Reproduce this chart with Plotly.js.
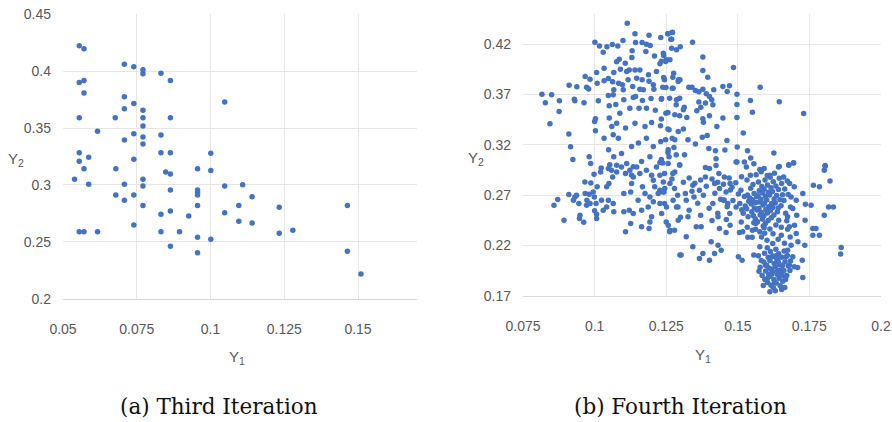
<!DOCTYPE html>
<html><head><meta charset="utf-8">
<script src="https://cdn.plot.ly/plotly-3.0.1.min.js"></script>
<style>html,body{margin:0;padding:0;background:#fff;}#chart{width:892px;height:422px;}</style>
</head><body><div id="chart"></div>
<script>
// (a) Third Iteration
const thirdY1 = [0.0555,0.0571,0.0708,0.0740,0.0771,0.0771,0.0832,0.0864,0.0555,0.0571,0.0571,0.0708,0.0740,0.0708,0.0771,0.0555,0.0677,0.0771,0.0864,0.0771,0.0617,0.0740,0.0771,0.0832,0.0708,0.0771,0.0555,0.0587,0.0740,0.0832,0.0864,0.0555,0.0571,0.0539,0.0587,0.0555,0.0571,0.0617,0.0679,0.0708,0.0679,0.0708,0.0740,0.0771,0.0771,0.0771,0.0740,0.0848,0.0864,0.0864,0.0832,0.0864,0.0926,0.0832,0.0895,0.0864,0.0956,0.0956,0.0956,0.0956,0.0956,0.0956,0.0956,0.1001,0.1001,0.1048,0.1109,0.1141,0.1096,0.1233,0.1464,0.1048,0.1096,0.1141,0.1233,0.1279,0.1001,0.1464,0.1510,0.1048];
const thirdY2 = [0.4222,0.4196,0.4059,0.4038,0.4011,0.3976,0.3980,0.3918,0.3900,0.3918,0.3807,0.3775,0.3716,0.3670,0.3655,0.3590,0.3590,0.3590,0.3590,0.3518,0.3471,0.3450,0.3421,0.3439,0.3395,0.3360,0.3283,0.3243,0.3225,0.3283,0.3283,0.3208,0.3143,0.3050,0.3006,0.2590,0.2590,0.2590,0.3143,0.3006,0.2912,0.2866,0.2912,0.3050,0.2991,0.2819,0.2649,0.3114,0.3096,0.2956,0.2743,0.2772,0.2728,0.2590,0.2590,0.2462,0.3143,0.2956,0.2935,0.2912,0.2819,0.2541,0.2404,0.3278,0.3126,0.2991,0.3003,0.2897,0.2819,0.2804,0.2819,0.2757,0.2681,0.2667,0.2576,0.2602,0.2524,0.2418,0.2219,0.3728];

// (b) Fourth Iteration — [Y1, Y2] pairs by region of the cloud
const fourthUpperLeft = [[0.1114,0.4408],[0.1141,0.4303],[0.119,0.4289],[0.1231,0.4266],[0.1257,0.4303],[0.1272,0.4316],[0.1269,0.425],[0.1001,0.422],[0.1017,0.4183],[0.1043,0.4174],[0.1062,0.4197],[0.1081,0.4183],[0.1099,0.4236],[0.103,0.4121],[0.1131,0.4134],[0.1143,0.4217],[0.1166,0.4217],[0.1181,0.42],[0.1194,0.4187],[0.1179,0.4127],[0.1209,0.4084],[0.113,0.4068],[0.1086,0.4051],[0.1077,0.4025],[0.1107,0.4012],[0.109,0.3952],[0.1067,0.3919],[0.1121,0.3945],[0.1033,0.3962],[0.1048,0.3859],[0.1007,0.3919],[0.1009,0.3813],[0.0984,0.3853],[0.0967,0.3879],[0.0972,0.3773],[0.0979,0.3754],[0.0911,0.3793],[0.0938,0.3777],[0.0816,0.3704],[0.085,0.3697],[0.0828,0.3618],[0.0877,0.3638],[0.0929,0.3654],[0.0931,0.3638],[0.0963,0.3618],[0.0876,0.3532],[0.0844,0.341],[0.1013,0.3638],[0.1033,0.3836],[0.1063,0.3826],[0.1067,0.3747],[0.1048,0.3691],[0.1065,0.3697],[0.1097,0.3797],[0.11,0.3747],[0.1133,0.378],[0.1143,0.3681],[0.1158,0.3753],[0.117,0.3747],[0.1166,0.3846],[0.119,0.3833],[0.1205,0.3797],[0.1207,0.3753],[0.1188,0.3896],[0.1216,0.3929],[0.1228,0.4005],[0.1248,0.4028],[0.1241,0.3869],[0.1249,0.377],[0.1274,0.3763],[0.1292,0.383],[0.1286,0.3648],[0.1234,0.3661],[0.1197,0.3661],[0.1167,0.3641],[0.1135,0.3671],[0.1102,0.3648],[0.1074,0.3601],[0.1051,0.3588],[0.1088,0.3515],[0.1123,0.3565],[0.1155,0.3565],[0.1181,0.3565],[0.1212,0.3545],[0.1249,0.3515],[0.128,0.3499],[0.1003,0.3459],[0.1,0.3433],[0.1003,0.334],[0.1051,0.3466],[0.106,0.3383],[0.1077,0.3416],[0.1108,0.3367],[0.1141,0.3416],[0.1176,0.3383],[0.1199,0.3423],[0.123,0.339],[0.126,0.335],[0.1292,0.3334],[0.1033,0.3267],[0.1065,0.3301],[0.1083,0.3267],[0.1129,0.3185],[0.1153,0.3218],[0.1181,0.3267],[0.1205,0.3185],[0.1231,0.3234],[0.1257,0.3152],[0.128,0.3251],[0.091,0.3307],[0.0916,0.3181],[0.0924,0.3056],[0.0981,0.3082],[0.0986,0.3016],[0.1049,0.3152],[0.1067,0.3082],[0.1094,0.3115],[0.1112,0.3016],[0.1135,0.2983],[0.1164,0.3036],[0.1193,0.3082],[0.1228,0.3026],[0.126,0.3082],[0.1053,0.3003],[0.1023,0.297],[0.1112,0.3929],[0.1141,0.3945],[0.1147,0.3863],[0.1117,0.3846],[0.1158,0.3945],[0.1084,0.3813],[0.124,0.4111],[0.1263,0.4045],[0.1286,0.4144],[0.1298,0.3846]];
const fourthUpperRight = [[0.1255,0.4303],[0.1271,0.4319],[0.1266,0.425],[0.1269,0.416],[0.1299,0.4174],[0.1342,0.422],[0.1241,0.4088],[0.1233,0.4031],[0.125,0.4045],[0.1378,0.4074],[0.1378,0.3939],[0.1395,0.3873],[0.1485,0.3969],[0.1276,0.3912],[0.1273,0.3873],[0.1293,0.3846],[0.1244,0.3846],[0.1238,0.3773],[0.1271,0.3763],[0.1329,0.3773],[0.134,0.3773],[0.1352,0.374],[0.1364,0.3727],[0.1378,0.3753],[0.139,0.3707],[0.1401,0.3681],[0.1416,0.3747],[0.1448,0.378],[0.1471,0.3787],[0.1463,0.373],[0.1497,0.3704],[0.1578,0.3773],[0.1233,0.3654],[0.1262,0.3664],[0.1297,0.3664],[0.1285,0.3598],[0.1364,0.3625],[0.1387,0.3615],[0.1409,0.3648],[0.1413,0.3598],[0.1497,0.3601],[0.1544,0.3641],[0.1645,0.3628],[0.1371,0.3575],[0.1357,0.3539],[0.1313,0.3575],[0.131,0.3549],[0.1256,0.3522],[0.1233,0.3456],[0.1297,0.3489],[0.1322,0.3473],[0.1378,0.3459],[0.138,0.3426],[0.1401,0.3489],[0.1448,0.3466],[0.1497,0.3473],[0.1551,0.3525],[0.173,0.3512],[0.1427,0.3383],[0.131,0.3357],[0.1256,0.3357],[0.1271,0.3267],[0.1326,0.3251],[0.1352,0.3208],[0.1376,0.3277],[0.1393,0.3294],[0.1462,0.3244],[0.1519,0.3317],[0.1498,0.3178],[0.1399,0.3165],[0.1422,0.3142],[0.1455,0.3148],[0.1534,0.3142],[0.1626,0.3119],[0.1248,0.3251],[0.1277,0.3175],[0.1256,0.3125],[0.1285,0.3102],[0.1314,0.3102],[0.1494,0.3029],[0.1523,0.3029],[0.1545,0.3069],[0.1424,0.3062],[0.1424,0.2996],[0.1556,0.3013],[0.1645,0.2986],[0.1678,0.3003],[0.1695,0.3023],[0.1805,0.2996],[0.1297,0.3003],[0.1387,0.2976],[0.1233,0.3056],[0.1238,0.302]];
const fourthLowerLeft = [[0.0858,0.2601],[0.0871,0.2657],[0.0893,0.2452],[0.091,0.2707],[0.0931,0.2683],[0.0926,0.265],[0.0945,0.2617],[0.0949,0.2502],[0.0947,0.2469],[0.0962,0.2432],[0.0966,0.2832],[0.0967,0.2717],[0.0981,0.271],[0.0973,0.265],[0.0972,0.2601],[0.0987,0.2822],[0.0995,0.2733],[0.0999,0.2683],[0.1005,0.2617],[0.1,0.2545],[0.1007,0.2512],[0.1007,0.2469],[0.1024,0.265],[0.103,0.2551],[0.1042,0.2584],[0.1048,0.265],[0.1067,0.2535],[0.1021,0.2931],[0.1048,0.2965],[0.0998,0.2908],[0.105,0.2816],[0.1063,0.2882],[0.1077,0.2931],[0.1094,0.2981],[0.1108,0.2915],[0.1123,0.2948],[0.1135,0.2882],[0.1129,0.2816],[0.1102,0.2717],[0.1126,0.2733],[0.1102,0.2535],[0.1121,0.2551],[0.1135,0.2518],[0.1126,0.2419],[0.1108,0.2336],[0.1164,0.2386],[0.1164,0.2551],[0.1181,0.2948],[0.1199,0.2898],[0.1158,0.2915],[0.1216,0.2981],[0.1228,0.2898],[0.1167,0.2783],[0.1176,0.2717],[0.1193,0.2683],[0.121,0.2783],[0.1228,0.275],[0.1242,0.2733],[0.1205,0.2634],[0.1228,0.2617],[0.1187,0.2584],[0.1193,0.2435],[0.1199,0.2485],[0.119,0.2369],[0.1234,0.2518],[0.1257,0.2402],[0.1263,0.2353],[0.1251,0.2584],[0.1274,0.265],[0.1286,0.2584],[0.1263,0.2816],[0.128,0.2931],[0.1257,0.3014],[0.1077,0.2998],[0.1042,0.2783],[0.1009,0.2783],[0.1292,0.2452],[0.1298,0.2105],[0.1152,0.265],[0.1065,0.2617],[0.0937,0.27],[0.0984,0.2617],[0.1059,0.2948],[0.1147,0.2981],[0.1129,0.2898],[0.1205,0.2849],[0.124,0.2832],[0.1245,0.2766],[0.1222,0.2717]];
const fourthLowerRight = [[0.1244,0.2915],[0.1273,0.2915],[0.1297,0.2998],[0.1279,0.2766],[0.1238,0.2733],[0.1244,0.2617],[0.125,0.2435],[0.1262,0.2336],[0.1279,0.2353],[0.1302,0.2105],[0.1291,0.2584],[0.132,0.2287],[0.1326,0.2485],[0.1317,0.2717],[0.1343,0.2799],[0.1366,0.275],[0.1347,0.2683],[0.1343,0.2188],[0.1366,0.2072],[0.1372,0.2386],[0.1355,0.2386],[0.1378,0.2121],[0.1401,0.2055],[0.1407,0.2237],[0.1387,0.2882],[0.1401,0.2965],[0.1419,0.2816],[0.1434,0.2915],[0.1436,0.2766],[0.1413,0.2617],[0.1431,0.2485],[0.1436,0.2369],[0.1431,0.2204],[0.1442,0.2154],[0.1419,0.2121],[0.1459,0.233],[0.1473,0.2402],[0.1465,0.2617],[0.145,0.265],[0.1459,0.2733],[0.1473,0.2816],[0.1453,0.2882],[0.1497,0.3031],[0.153,0.2981],[0.1544,0.2898],[0.1577,0.2955],[0.1592,0.2965],[0.1612,0.2898],[0.1642,0.2981],[0.1678,0.2998],[0.1695,0.3021],[0.166,0.2882],[0.1681,0.2816],[0.1697,0.2783],[0.1727,0.2717],[0.1736,0.2611],[0.1756,0.2601],[0.1706,0.2502],[0.1735,0.2452],[0.1762,0.2369],[0.1773,0.2369],[0.1785,0.2303],[0.1762,0.2303],[0.1802,0.2502],[0.1817,0.2584],[0.1834,0.2584],[0.1764,0.2799],[0.1785,0.2783],[0.1805,0.2988],[0.1802,0.2948],[0.1822,0.2842],[0.1861,0.2181],[0.1859,0.2115],[0.1734,0.2204],[0.171,0.2237],[0.1725,0.2055],[0.1727,0.1883],[0.1697,0.1989],[0.1709,0.1982],[0.168,0.2005],[0.1669,0.2088],[0.1674,0.2154],[0.1692,0.2088],[0.1686,0.2204],[0.1704,0.232],[0.1698,0.2402],[0.168,0.2386],[0.1674,0.2485],[0.1692,0.2568],[0.1686,0.2683],[0.1704,0.265],[0.1502,0.2088],[0.1515,0.2055],[0.1517,0.2336],[0.1506,0.233],[0.1535,0.2283],[0.155,0.2283],[0.1556,0.2105],[0.1577,0.2188],[0.1551,0.2353],[0.1563,0.2419],[0.1577,0.2336]];
const fourthMidCluster = [[0.1483,0.2647],[0.1494,0.2583],[0.1502,0.2712],[0.1507,0.2618],[0.1514,0.2556],[0.1511,0.2749],[0.1523,0.2687],[0.1526,0.2594],[0.1519,0.2521],[0.1534,0.2702],[0.1538,0.2641],[0.1531,0.2566],[0.1536,0.2487],[0.1545,0.2768],[0.1542,0.2672],[0.1547,0.2613],[0.1549,0.2536],[0.1553,0.2806],[0.1557,0.2718],[0.1551,0.2655],[0.1558,0.2574],[0.1554,0.2498],[0.1556,0.2426],[0.1566,0.2684],[0.1563,0.2627],[0.1568,0.2553],[0.1561,0.2467],[0.1572,0.2831],[0.1575,0.2745],[0.1571,0.2694],[0.1577,0.2632],[0.1574,0.2567],[0.1578,0.2503],[0.1569,0.2437],[0.1584,0.2787],[0.1587,0.2722],[0.1581,0.2659],[0.1588,0.2604],[0.1583,0.2528],[0.1586,0.2463],[0.1589,0.2394],[0.1595,0.2851],[0.1592,0.2763],[0.1597,0.2688],[0.1593,0.2621],[0.1598,0.2557],[0.1591,0.2497],[0.1596,0.2418],[0.1604,0.2802],[0.1607,0.2729],[0.1601,0.2652],[0.1608,0.2586],[0.1603,0.2523],[0.1606,0.2449],[0.1613,0.2878],[0.1616,0.2774],[0.1611,0.2703],[0.1618,0.2617],[0.1614,0.2548],[0.1617,0.2476],[0.1624,0.2834],[0.1621,0.2737],[0.1627,0.2663],[0.1622,0.2578],[0.1626,0.2504],[0.1633,0.2792],[0.1636,0.2697],[0.1631,0.2622],[0.1638,0.2536],[0.1645,0.2869],[0.1642,0.2758],[0.1647,0.2656],[0.1641,0.2573],[0.1653,0.2817],[0.1656,0.2704],[0.1651,0.2596],[0.1664,0.2763],[0.1661,0.2648],[0.1667,0.2521],[0.1673,0.2842],[0.1676,0.2706],[0.1671,0.2447],[0.1684,0.2583],[0.1463,0.2585],[0.1472,0.2518],[0.1452,0.2652],[0.1474,0.2751],[0.1493,0.2824],[0.1513,0.2883],[0.1532,0.2852],[0.1564,0.2903],[0.1582,0.2934],[0.1603,0.2897],[0.1628,0.2918],[0.1512,0.2434],[0.1533,0.2382],[0.1562,0.2361],[0.1594,0.2323],[0.1612,0.2364],[0.1633,0.2405],[0.1652,0.2382],[0.1643,0.2452]];
const fourthLowCluster = [[0.1582,0.2052],[0.1578,0.1984],[0.1585,0.1903],[0.1593,0.2124],[0.1591,0.2036],[0.1597,0.1948],[0.1594,0.1862],[0.1603,0.2178],[0.1606,0.2083],[0.1601,0.2004],[0.1608,0.1917],[0.1604,0.1834],[0.1614,0.2142],[0.1612,0.2051],[0.1617,0.1968],[0.1611,0.1893],[0.1616,0.1806],[0.1623,0.2097],[0.1627,0.2023],[0.1621,0.1941],[0.1626,0.1864],[0.1624,0.1783],[0.1633,0.2163],[0.1636,0.2068],[0.1631,0.1987],[0.1638,0.1912],[0.1634,0.1827],[0.1643,0.2118],[0.1641,0.2042],[0.1647,0.1958],[0.1644,0.1876],[0.1648,0.1802],[0.1653,0.2083],[0.1656,0.2001],[0.1651,0.1922],[0.1657,0.1845],[0.1662,0.2147],[0.1665,0.2038],[0.1661,0.1952],[0.1667,0.1863],[0.1664,0.1784],[0.1673,0.2102],[0.1676,0.1998],[0.1671,0.1903],[0.1684,0.2047],[0.1682,0.1953],[0.1572,0.2098],[0.1574,0.1946],[0.1602,0.2253],[0.1622,0.2221],[0.1641,0.2262],[0.1583,0.2284],[0.1612,0.1742],[0.1653,0.1763],[0.1631,0.1752],[0.1589,0.1803],[0.1592,0.2378],[0.1623,0.2317],[0.1652,0.2302],[0.1674,0.2363],[0.1683,0.2284],[0.1663,0.2223],[0.1597,0.2004],[0.1619,0.1915],[0.1639,0.1948],[0.1628,0.1836],[0.1609,0.1976],[0.1646,0.2011],[0.1635,0.2098],[0.1618,0.2086],[0.1657,0.1902],[0.1603,0.1873]];
const fourthBand = [[0.131,0.283],[0.133,0.287],[0.135,0.282],[0.137,0.285],[0.139,0.279],[0.141,0.286],[0.143,0.283],[0.145,0.281],[0.147,0.287],[0.148,0.278],[0.134,0.274],[0.138,0.27],[0.142,0.272],[0.144,0.266],[0.132,0.265],[0.136,0.262],[0.140,0.257],[0.143,0.252],[0.146,0.246],[0.141,0.245],[0.137,0.25],[0.133,0.255],[0.130,0.248],[0.129,0.27],[0.127,0.286]];

const leftXTicks = [0.05,0.075,0.1,0.125,0.15];
const leftXLabels = ['0.05','0.075','0.1','0.125','0.15'];
const leftYTicks = [0.2,0.25,0.3,0.35,0.4,0.45];
const leftYLabels = ['0.2','0.25','0.3','0.35','0.4','0.45'];
const rightXTicks = [0.075,0.1,0.125,0.15,0.175,0.2];
const rightXLabels = ['0.075','0.1','0.125','0.15','0.175','0.2'];
const rightYTicks = [0.17,0.22,0.27,0.32,0.37,0.42];
const rightYLabels = ['0.17','0.22','0.27','0.32','0.37','0.42'];

const fourth = [].concat(fourthUpperLeft, fourthUpperRight, fourthLowerLeft, fourthLowerRight, fourthMidCluster, fourthLowCluster, fourthBand);

const BLUE = '#4472C4';
const tickFont = {family:'Liberation Sans, Arial, sans-serif', size:14, color:'#595959'};
const axFont = {family:'Liberation Sans, Arial, sans-serif', size:15, color:'#595959'};
const capFont = {family:'DejaVu Serif, serif', size:21.5, color:'#111'};
const W = 892, H = 422;
const px = v => v / W, py = v => 1 - v / H;

const traces = [
  {type:'scatter', mode:'markers', x:thirdY1, y:thirdY2, xaxis:'x', yaxis:'y',
   marker:{color:BLUE, size:5.5}, hoverinfo:'x+y', showlegend:false},
  {type:'scatter', mode:'markers', x:fourth.map(p=>p[0]), y:fourth.map(p=>p[1]), xaxis:'x2', yaxis:'y2',
   marker:{color:BLUE, size:5.5}, hoverinfo:'x+y', showlegend:false}
];

const common = {showgrid:true, gridcolor:'#e6e6e6', gridwidth:1, zeroline:false, tickfont:tickFont, tickmode:'array', ticks:'', fixedrange:true};

const layout = {
  width:W, height:H, margin:{l:0,r:0,t:0,b:0}, paper_bgcolor:'#fff', plot_bgcolor:'#fff',
  showlegend:false,
  xaxis: Object.assign({}, common, {domain:[px(63), px(417)], range:[0.04999,0.17], tickvals:leftXTicks, ticktext:leftXLabels, anchor:'y', showline:true, linecolor:'#d9d9d9', ticklabelstandoff:17}),
  yaxis: Object.assign({}, common, {domain:[1-299/H, 1-14/H], range:[0.1999,0.4501], tickvals:leftYTicks, ticktext:leftYLabels, anchor:'x', showline:false, ticklabelstandoff:11}),
  xaxis2: Object.assign({}, common, {domain:[px(523), px(881)], range:[0.07499,0.20001], tickvals:rightXTicks, ticktext:rightXLabels, anchor:'y2', showline:true, linecolor:'#d9d9d9', ticklabelstandoff:17}),
  yaxis2: Object.assign({}, common, {domain:[1-296/H, 1-14/H], range:[0.1699,0.45], tickvals:rightYTicks, ticktext:rightYLabels, anchor:'x2', showline:false, ticklabelstandoff:11}),
  annotations: [
    {text:'Y<sub>2</sub>', xref:'paper', yref:'paper', x:px(16), y:py(160), showarrow:false, font:axFont, xanchor:'center', yanchor:'middle'},
    {text:'Y<sub>1</sub>', xref:'paper', yref:'paper', x:px(237), y:py(357), showarrow:false, font:axFont, xanchor:'center', yanchor:'middle'},
    {text:'Y<sub>2</sub>', xref:'paper', yref:'paper', x:px(476), y:py(158), showarrow:false, font:axFont, xanchor:'center', yanchor:'middle'},
    {text:'Y<sub>1</sub>', xref:'paper', yref:'paper', x:px(703), y:py(355), showarrow:false, font:axFont, xanchor:'center', yanchor:'middle'},
    {text:'(a) Third Iteration', xref:'paper', yref:'paper', x:px(219), y:py(406), showarrow:false, font:capFont, xanchor:'center', yanchor:'middle'},
    {text:'(b) Fourth Iteration', xref:'paper', yref:'paper', x:px(680), y:py(406), showarrow:false, font:capFont, xanchor:'center', yanchor:'middle'}
  ]
};

Plotly.newPlot('chart', traces, layout, {staticPlot:true, displayModeBar:false});
</script>
</body></html>
